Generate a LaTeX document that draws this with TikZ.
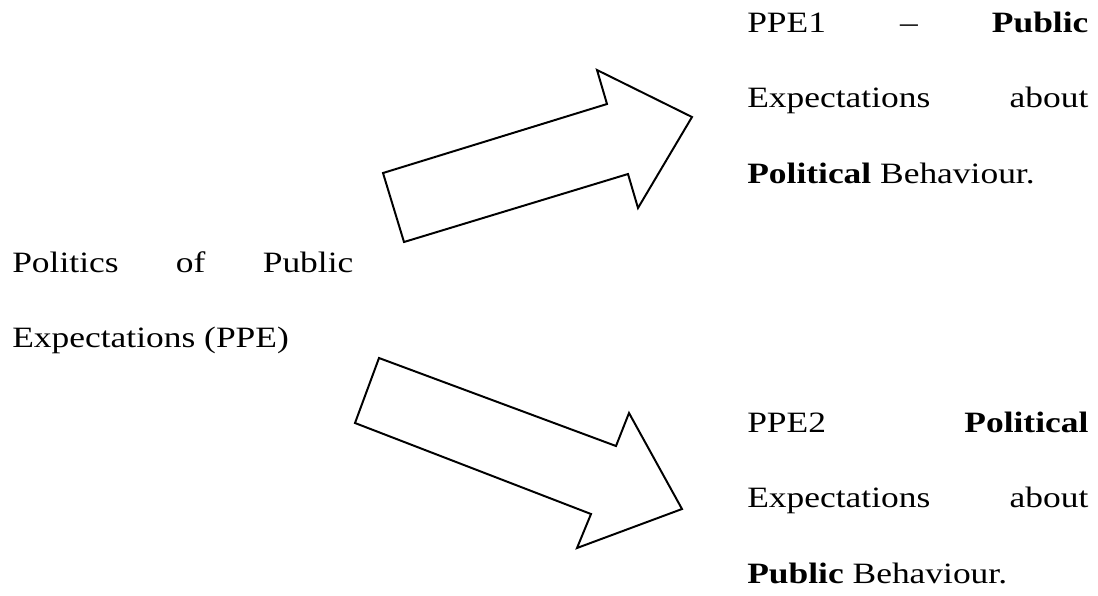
\documentclass[tikz,border=0pt]{standalone}
\usepackage{fontspec}
\setmainfont{Liberation Serif}[FakeStretch=1.2]
\usepackage{tikz}
\setlength{\parindent}{0pt}
\tikzstyle{textblock} = [inner sep=0pt, text width=8.525cm, align=justify, anchor=base west, font=\fontsize{21}{54}\selectfont]
\tikzstyle{blockarrow} = [draw, line width=1.4pt, fill=white, line join=miter]

\begin{document}
\begin{tikzpicture}[x=0.025cm, y=-0.025cm]
\useasboundingbox (0,0) rectangle (1098,595);

%% Tekst %%
\node [textblock] (PPE) at (12,272) {Politics of Public\linebreak Expectations (PPE)};

\node [textblock] (PPEone) at (747,32) {PPE1 -- \textbf{Public}\linebreak Expectations about\linebreak \textbf{Political} Behaviour.};

\node [textblock] (PPEtwo) at (747,432) {PPE2 \textbf{Political}\linebreak Expectations about\linebreak \textbf{Public} Behaviour.};

%% Pile %%
\draw[blockarrow] (383,173) -- (607,104) -- (597,70) -- (692,117) -- (638,208) -- (628,174) -- (404,242) -- cycle;
\draw[blockarrow] (379,358) -- (616,446) -- (629,413) -- (682,509) -- (577,548) -- (591,514) -- (355,423) -- cycle;
\end{tikzpicture}
\end{document}
